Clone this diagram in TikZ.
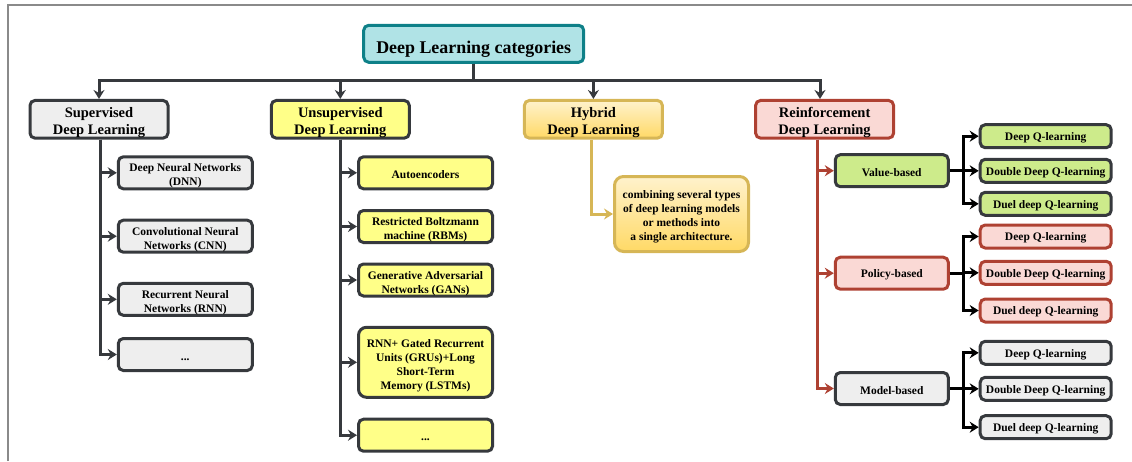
\documentclass[tikz,border=0pt]{standalone}
\usepackage{fontspec}
\setmainfont{Liberation Serif}
\usetikzlibrary{arrows.meta,calc}
\definecolor{dk}{HTML}{36393D}
\definecolor{tealf}{HTML}{B0E3E6}
\definecolor{teald}{HTML}{0E8088}
\definecolor{grayf}{HTML}{EEEEEE}
\definecolor{yelf}{HTML}{FFFF88}
\definecolor{goldt}{HTML}{FFF2CC}
\definecolor{goldb}{HTML}{FFD966}
\definecolor{goldd}{HTML}{D6B656}
\definecolor{redf}{HTML}{FAD9D5}
\definecolor{redd}{HTML}{AE4132}
\definecolor{grnf}{HTML}{CDEB8B}
\definecolor{framec}{HTML}{8A8A8A}
\newcommand\strT{\rule{0pt}{22.5pt}}
\newcommand\strA{\rule{0pt}{17pt}}
\newcommand\strB{\rule{0pt}{14.5pt}}
\newcommand\strC{\rule{0pt}{11.5pt}}
\tikzset{
  box/.style={draw=dk, line width=3pt, rounded corners=5pt, align=center, inner sep=0pt, text=black,
    font=\bfseries\fontsize{11.5}{14}\selectfont},
  lvl/.style={box, minimum width=138pt, minimum height=37pt,
    font=\bfseries\fontsize{14.5}{17.5}\selectfont},
  child/.style={box, minimum width=134pt, minimum height=32pt},
  sub/.style={box, minimum width=113pt, minimum height=32pt},
  leaf/.style={box, minimum width=131pt, minimum height=23pt},
  tipa/.style={-{Stealth[length=9pt,width=11pt,inset=3pt]}},
  dconn/.style={tipa, draw=dk, line width=3pt},
  gconn/.style={tipa, draw=goldd, line width=3pt},
  rconn/.style={tipa, draw=redd, line width=3pt},
  bconn/.style={tipa, draw=black, line width=3pt},
}
\begin{document}
\begin{tikzpicture}[x=1pt,y=-1pt]
\useasboundingbox (0,0) rectangle (1132,461);
\draw[framec, line width=1.5pt] (8,461) -- (8,5) -- (1132,5);

% title
\node[box, draw=teald, fill=tealf, minimum width=220pt, minimum height=37pt,
  font=\bfseries\fontsize{17.9}{20}\selectfont] (title) at (473.7,43.8) {\strT Deep Learning categories};

% level 1
\node[lvl, fill=grayf] (sup) at (99,119.3) {\strA Supervised\\Deep Learning};
\node[lvl, fill=yelf] (unsup) at (340.3,119.3) {\strA Unsupervised\\Deep Learning};
\node[lvl, draw=goldd, top color=goldt, bottom color=goldb] (hyb) at (593.4,119.3) {\strA Hybrid\\Deep Learning};
\node[lvl, draw=redd, fill=redf] (rein) at (824.6,119.3) {\strA Reinforcement\\Deep Learning};

% supervised children
\node[child, fill=grayf] (dnn) at (185.3,172.8) {\strB Deep Neural Networks\\(DNN)};
\node[child, fill=grayf] (cnn) at (185.3,236.2) {\strB Convolutional Neural\\Networks (CNN)};
\node[child, fill=grayf] (rnn) at (185.3,299.3) {\strB Recurrent Neural\\Networks (RNN)};
\node[child, fill=grayf] (sdots) at (185.3,354.5) {\strC ...};

% unsupervised children
\node[child, fill=yelf] (ae) at (425.5,172.8) {\strC Autoencoders};
\node[child, fill=yelf] (rbm) at (425.5,226.5) {\strB Restricted Boltzmann\\machine (RBMs)};
\node[child, fill=yelf] (gan) at (425.5,280) {\strB Generative Adversarial\\Networks (GANs)};
\node[child, fill=yelf, minimum height=70pt, rounded corners=8pt] (gru) at (425.5,362.3) {\strB RNN+ Gated Recurrent\\Units (GRUs)+Long\\Short-Term\\Memory (LSTMs)};
\node[child, fill=yelf] (udots) at (425.5,435.2) {\strC ...};

% hybrid description
\node[child, draw=goldd, top color=goldt, bottom color=goldb, minimum height=75pt, rounded corners=9pt] (hdesc) at (681.5,214) {\strB combining several types\\of deep learning models\\or methods into\\a single architecture.};

% reinforcement children
\node[sub, fill=grnf] (value) at (891.8,170.7) {\strC Value-based};
\node[sub, draw=redd, fill=redf] (policy) at (891.8,273.2) {\strC Policy-based};
\node[sub, fill=grayf] (model) at (891.8,388.5) {\strC Model-based};

\node[leaf, fill=grnf] (v1) at (1045.7,136.2) {\strC Deep Q-learning};
\node[leaf, fill=grnf] (v2) at (1045.7,170.8) {\strC Double Deep Q-learning};
\node[leaf, fill=grnf] (v3) at (1045.7,203.8) {\strC Duel deep Q-learning};
\node[leaf, draw=redd, fill=redf] (p1) at (1045.7,236.5) {\strC Deep Q-learning};
\node[leaf, draw=redd, fill=redf] (p2) at (1045.7,272.8) {\strC Double Deep Q-learning};
\node[leaf, draw=redd, fill=redf] (p3) at (1045.7,310.5) {\strC Duel deep Q-learning};
\node[leaf, fill=grayf] (m1) at (1045.7,352.8) {\strC Deep Q-learning};
\node[leaf, fill=grayf] (m2) at (1045.7,388.8) {\strC Double Deep Q-learning};
\node[leaf, fill=grayf] (m3) at (1045.7,427.2) {\strC Duel deep Q-learning};

% top-level connectors
\draw[dconn] (title.south) |- ([yshift=18pt]sup.north) -- (sup.north);
\draw[dconn] (title.south) |- ([yshift=18pt]unsup.north) -- (unsup.north);
\draw[dconn] (title.south) |- ([yshift=18pt]hyb.north) -- (hyb.north);
\draw[dconn] (title.south) |- ([xshift=-4.6pt,yshift=18pt]rein.north) -- ([xshift=-4.6pt]rein.north);

% supervised
\foreach \c in {dnn,cnn,rnn,sdots} \draw[dconn] ([xshift=1pt]sup.south) |- (\c.west);
% unsupervised
\foreach \c in {ae,rbm,gan,gru,udots} \draw[dconn] (unsup.south) |- (\c.west);
% hybrid
\draw[gconn] ([xshift=-1.7pt]hyb.south) |- (hdesc.west);
% reinforcement
\foreach \c in {value,policy,model} \draw[rconn] ([xshift=-7.3pt]rein.south) |- (\c.west);

\foreach \c in {v1,v2,v3} \draw[bconn] (value.east) -- ++(14,0) |- (\c.west);
\foreach \c in {p1,p2,p3} \draw[bconn] (policy.east) -- ++(14,0) |- (\c.west);
\foreach \c in {m1,m2,m3} \draw[bconn] (model.east) -- ++(14,0) |- (\c.west);
\end{tikzpicture}
\end{document}
